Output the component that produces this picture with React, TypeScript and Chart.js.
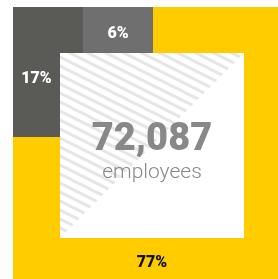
import React, { useEffect, useRef } from "react";
import { Chart, registerables } from "chart.js";

Chart.register(...registerables);

// ---- data ----
const segmentNames = ["Group A", "Group B", "Group C"];
const segmentShares = [77, 17, 6];
const totalEmployees = 72087;
const totalCaption = "employees";

// ---- styles ----
const COLORS = {
  big: "#FFCC00",
  mid: "#5A5A57",
  small: "#6F6F6F",
  center: "#FFFFFF",
  hatch: "#E6E6E6",
  centerText: "#888888",
};
const LABEL_COLORS = ["#111111", "#FFFFFF", "#FFFFFF"];

// ---- layout (in scale units, 1 unit = 1px) ----
const VIEW = { w: 278, h: 279 };
const INNER = { x0: 60, x1: 244, y0: 53, y1: 238 };
const BAND = { left: 47, top: 46 };
const OUTER = {
  x0: INNER.x0 - BAND.left,
  x1: INNER.x1 + BAND.left,
  y0: INNER.y0 - BAND.top,
  y1: INNER.y1 + BAND.top,
};
const SPLIT = { midBottom: 137, midTopRight: 83, smallRight: 153 };
const LABEL_POS = [
  { x: (OUTER.x0 + OUTER.x1) / 2, y: 267 },
  { x: (OUTER.x0 + INNER.x0) / 2, y: 83 },
  { x: (SPLIT.midTopRight + SPLIT.smallRight) / 2, y: 38 },
];

function makeHatch(): CanvasPattern | string {
  const P = 9;
  const tile = document.createElement("canvas");
  tile.width = 2 * P;
  tile.height = P;
  const c = tile.getContext("2d");
  if (!c) return COLORS.hatch;
  c.fillStyle = "#ffffff";
  c.fillRect(0, 0, tile.width, tile.height);
  c.strokeStyle = COLORS.hatch;
  c.lineWidth = 3;
  for (let k = -2; k <= 3; k++) {
    c.beginPath();
    c.moveTo(-2 * P, -P + k * P);
    c.lineTo(4 * P, 2 * P + k * P);
    c.stroke();
  }
  const pat = c.createPattern(tile, "repeat");
  return pat || COLORS.hatch;
}

const labelPlugin = {
  id: "centerLabels",
  afterDatasetsDraw(chart: any) {
    const { ctx, scales } = chart;
    const sx = scales.x;
    const sy = scales.y;
    ctx.save();
    ctx.textAlign = "center";
    ctx.textBaseline = "alphabetic";
    segmentShares.forEach((v, i) => {
      ctx.fillStyle = LABEL_COLORS[i];
      ctx.font = "900 16px Roboto";
      ctx.fillText(
        v + "%",
        sx.getPixelForValue(LABEL_POS[i].x),
        sy.getPixelForValue(LABEL_POS[i].y)
      );
    });
    const cx = sx.getPixelForValue((INNER.x0 + INNER.x1) / 2);
    ctx.fillStyle = COLORS.centerText;
    ctx.font = "900 38px Roboto";
    ctx.fillText(totalEmployees.toLocaleString("en-US"), cx, sy.getPixelForValue(150));
    ctx.font = "300 21px Roboto";
    ctx.fillText(totalCaption, cx, sy.getPixelForValue(178));
    ctx.restore();
  },
};

export default function App() {
  const ref = useRef<HTMLCanvasElement>(null);
  useEffect(() => {
    if (!ref.current) return;
    const hatch = makeHatch();
    const base = { borderWidth: 0, pointRadius: 0, showLine: true, tension: 0 };
    const chart = new Chart(ref.current, {
      type: "line",
      data: {
        datasets: [
          {
            ...base,
            label: "hatch",
            data: [
              { x: INNER.x0, y: INNER.y1 },
              { x: INNER.x1, y: INNER.y0 },
            ],
            backgroundColor: hatch as any,
            fill: { value: INNER.y0 },
          },
          {
            ...base,
            label: "center",
            data: [
              { x: INNER.x0, y: INNER.y1 },
              { x: INNER.x1, y: INNER.y1 },
            ],
            backgroundColor: COLORS.center,
            fill: { value: INNER.y0 },
          },
          {
            ...base,
            label: segmentNames[2],
            data: [
              { x: SPLIT.midTopRight, y: INNER.y0 },
              { x: SPLIT.smallRight, y: INNER.y0 },
            ],
            backgroundColor: COLORS.small,
            fill: { value: OUTER.y0 },
          },
          {
            ...base,
            label: segmentNames[1],
            data: [
              { x: OUTER.x0, y: SPLIT.midBottom },
              { x: INNER.x0, y: SPLIT.midBottom },
              { x: INNER.x0, y: INNER.y0 },
              { x: SPLIT.midTopRight, y: INNER.y0 },
            ],
            backgroundColor: COLORS.mid,
            fill: { value: OUTER.y0 },
          },
          {
            ...base,
            label: segmentNames[0],
            data: [
              { x: OUTER.x0, y: OUTER.y1 },
              { x: OUTER.x1, y: OUTER.y1 },
            ],
            backgroundColor: COLORS.big,
            fill: { value: OUTER.y0 },
          },
        ],
      },
      options: {
        animation: false,
        responsive: false,
        events: [],
        layout: { padding: 0 },
        plugins: { legend: { display: false }, tooltip: { enabled: false } },
        scales: {
          x: { type: "linear", min: 0, max: VIEW.w, display: false },
          y: { type: "linear", min: 0, max: VIEW.h, reverse: true, display: false },
        },
      },
      plugins: [labelPlugin],
    });
    return () => chart.destroy();
  }, []);
  return (
    <div style={{ position: "fixed", left: 0, top: 0, width: VIEW.w, height: VIEW.h, background: "#fff" }}>
      <canvas ref={ref} width={VIEW.w} height={VIEW.h} />
    </div>
  );
}
